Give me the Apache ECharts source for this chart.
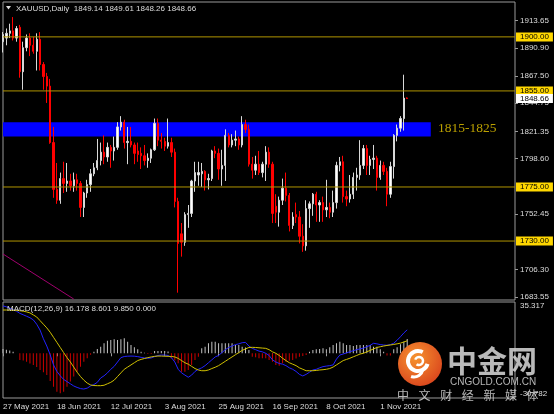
<!DOCTYPE html>
<html><head><meta charset="utf-8">
<script src="https://cdn.jsdelivr.net/npm/echarts@6/dist/echarts.min.js"></script>
<style>html,body{margin:0;padding:0;background:#000;}#c{width:554px;height:414px;}</style>
</head><body><div id="c"></div><script>
const tickLabels = ['27 May 2021','18 Jun 2021','12 Jul 2021','3 Aug 2021','25 Aug 2021','16 Sep 2021','8 Oct 2021','1 Nov 2021'];
const tickEvery = 16;
const totalSlots = 153;
const opens = [1896,1899,1903,1905,1899,1908,1871,1891,1899,1893,1888,1898,1877,1867,1859,1812,1773,1764,1782,1778,1780,1776,1781,1778,1758,1770,1777,1786,1791,1797,1804,1800,1808,1805,1808,1825,1829,1812,1813,1810,1805,1803,1801,1797,1799,1806,1828,1814,1813,1809,1812,1804,1763,1736,1729,1752,1753,1780,1785,1786,1788,1781,1782,1805,1803,1790,1793,1818,1810,1814,1815,1810,1827,1823,1794,1789,1794,1787,1794,1804,1794,1759,1754,1764,1774,1768,1743,1752,1750,1734,1726,1757,1761,1769,1760,1762,1756,1758,1754,1762,1793,1796,1767,1765,1769,1783,1785,1793,1807,1793,1798,1799,1783,1793,1788,1769,1792,1818,1824,1832,1849.14];
const highs = [1904,1907,1911,1916.5,1909,1910,1896,1902,1903,1900,1903,1904,1879,1870,1865,1825,1795,1787,1796,1795,1786,1787,1786,1780,1771,1781,1790,1795,1815,1812,1818,1812,1810,1817,1829,1834,1831,1825,1825,1812,1812,1808,1810,1803,1807,1832,1832,1820,1816,1832,1816,1807,1766,1745,1754,1760,1781,1796,1796,1795,1789,1786,1806,1809,1807,1806,1823,1820,1819,1822,1817,1834,1831,1827,1800,1801,1805,1796,1809,1808,1796,1769,1767,1782,1787,1770,1754,1762,1755,1744,1764,1763,1770,1771,1764,1767,1781,1762,1772,1796,1800,1801,1772,1785,1787,1791,1814,1810,1810,1801,1810,1801,1797,1796,1791,1796,1819,1827,1834,1868.5,1849.61];
const lows = [1887,1893,1899,1897,1896,1866,1856,1888,1884,1886,1872,1872,1856,1845,1811,1766,1761,1761,1770,1771,1772,1771,1772,1750,1750,1766,1771,1784,1789,1793,1794,1796,1791,1797,1806,1822,1807,1794,1808,1794,1796,1790,1793,1791,1795,1805,1809,1807,1805,1807,1800,1758,1687,1717,1726,1741,1750,1771,1776,1775,1772,1773,1780,1799,1781,1776,1780,1808,1808,1809,1806,1808,1820,1792,1782,1785,1785,1783,1780,1791,1745,1745,1742,1760,1763,1738,1740,1745,1728,1721,1722,1741,1751,1746,1746,1746,1750,1749,1750,1757,1788,1762,1759,1762,1765,1772,1781,1790,1785,1785,1790,1772,1781,1785,1759,1766,1782,1813,1821,1822,1848.26];
const closes = [1902,1903,1905,1899,1907,1871,1891,1899,1893,1888,1898,1877,1867,1859,1812,1773,1764,1782,1778,1780,1776,1781,1778,1758,1770,1777,1786,1791,1797,1804,1800,1808,1805,1808,1825,1829,1812,1813,1810,1803,1802,1801,1797,1799,1806,1828,1814,1813,1809,1812,1804,1763,1728,1729,1752,1753,1780,1787,1787,1788,1781,1782,1805,1803,1790,1793,1818,1810,1814,1815,1810,1827,1823,1794,1789,1794,1787,1794,1804,1794,1753,1754,1764,1774,1768,1743,1750,1750,1734,1726,1757,1761,1769,1760,1762,1756,1758,1754,1762,1793,1796,1767,1765,1769,1783,1785,1793,1807,1793,1798,1799,1783,1793,1788,1769,1792,1818,1824,1832,1849,1848.66];
const macdLine = [32.6,32,31,30,29,27.5,26.5,25.5,24.5,23,20,16,10,5,-1,-8,-12.5,-15.5,-18,-19.5,-21,-22.5,-23.5,-24.3,-24.6,-24,-22.5,-21.5,-20,-17,-15.5,-13.5,-11,-9,-6,-3,-2.2,-2,-1.9,-2,-2.3,-2.8,-3.2,-3.4,-3.2,-2.3,-1.5,-1.2,-1.2,-1.5,-3,-6,-11,-13.5,-15,-16.5,-15,-12.5,-11,-10,-8.5,-6.5,-4.5,-2.5,-1.5,0.5,2.5,4,5,6,6.5,7.3,7.5,5,3.4,2.5,1.5,1,0,-1.5,-4.5,-6,-7,-7.5,-8.5,-10,-11,-12.5,-14.5,-15.6,-14.5,-13,-11.5,-11,-10,-9.2,-8.8,-8.5,-8,-4,-1.2,-0.5,0.3,1.1,1.8,2.5,3,3.6,4.5,5.5,6.9,6.5,6,5.7,5.5,6,6.9,9,11.4,14,16.18];
const signalLine = [29.8,29.8,29.7,29.6,29.5,29.3,29,28.5,27.8,26.4,25,22.5,20,17.5,14.5,11,7.5,4,0.5,-3,-6,-9.5,-13,-16,-18.5,-20.5,-21.8,-22.2,-22.3,-22.3,-22,-21,-20,-18.5,-16,-13.5,-11,-9.5,-8,-6.5,-5,-4.2,-3.6,-3,-2.5,-2.1,-1.9,-1.9,-2,-2.1,-2.2,-2.5,-3.5,-5,-6.5,-7.5,-9,-10.5,-11.5,-12,-12,-11.5,-10.5,-9.6,-8.5,-7,-5.5,-4,-2.5,-1,0.5,2,3,4,4.1,4,3.8,3.6,3.4,2.5,1,0,-1.5,-3.4,-5,-6.5,-7.5,-8.5,-10,-11,-12,-12,-12,-11.8,-11.5,-11.3,-11,-10.5,-9.5,-8,-6.5,-5,-4.2,-3.4,-2.4,-1.5,-0.5,0,1,2,3,4,4.5,5,5.4,5.7,6.1,6.5,7,7.8,8.6];
const histValues = [3,2.5,2,1,0,-4.6,-5,-5.8,-7,-8,-9.5,-11.5,-13,-15,-19,-23,-26.4,-27.5,-26.4,-23,-19.5,-16,-12.7,-9.2,-5.8,-3.4,-1,1.1,3,4.5,6.9,8.7,9.2,9.6,9.2,9.6,10.3,8,5.7,4.1,2.7,1.1,0.3,-0.5,-0.5,1.5,1.5,1.5,1.5,1.2,-3.4,-5,-6.9,-12.7,-12.7,-11.5,-8,-4.6,-2.3,3.4,4.5,6.9,8,8,6.9,6.9,6.9,6.9,6.9,5.7,5.7,4.5,4,2.3,-2.3,-2.8,-3.4,-3.4,-3.4,-4.6,-5.8,-8,-8.5,-6.9,-5.8,-5.2,-4.6,-3.5,-2.3,-1.8,-1.2,1.1,2.3,2.8,3,3.4,2.8,4.1,5.7,6.9,8,6.9,5.7,5.7,5,5.7,5.7,5.7,5.7,5.7,4.5,4.5,2.7,1.1,-1.5,-1.5,2.7,4.1,6.3,8,9.85];
const levels = [1900, 1855, 1775, 1730];
const lastPrice = 1848.66;
const band = [1817, 1829];
const bandEnd = 127;
const priceTicks = [1913.65, 1890.90, 1867.50, 1844.75, 1821.35, 1798.60, 1752.45, 1706.30, 1683.55];
const macdTicks = [35.317, -30.782];
const trendLine = [[0, 1719.2], [21, 1681.7]];
const titleText = 'XAUUSD,Daily  1849.14 1849.61 1848.26 1848.66';
const macdText = 'MACD(12,26,9) 16.178 8.601 9.850 0.000';

const cats = Array.from({length: totalSlots}, (_, i) => String(i));
const candleData = opens.map((o, i) => [o, closes[i], lows[i], highs[i]]);
const FONT = '"Liberation Sans", Arial, sans-serif';
const LEVEL_COLOR = '#b09400';
const showTick = (idx) => idx % tickEvery === 0 && idx / tickEvery < tickLabels.length;

const chart = echarts.init(document.getElementById('c'), null, {renderer: 'canvas'});
const endLbl = (bg) => ({show: true, distance: 1, formatter: p => Number(p.value[1]).toFixed(2),
  backgroundColor: bg, color: '#000', fontSize: 8, fontFamily: FONT, padding: [1, 4, 0, 4]});
const levelSeries = (v, bg, visible) => ({type: 'line', xAxisIndex: 0, yAxisIndex: 0, z: 4, silent: true,
  data: [[0, v], [totalSlots - 1, v]], symbol: 'none', showSymbol: false,
  lineStyle: {color: visible ? LEVEL_COLOR : 'rgba(0,0,0,0)', width: visible ? 1 : 0},
  endLabel: endLbl(bg), labelLayout: {hideOverlap: false}});

const option = {
  backgroundColor: '#000',
  animation: false,
  grid: [
    {left: 3, right: 39, top: 2, height: 298, show: true, borderColor: '#9a9a9a', borderWidth: 1, backgroundColor: '#000'},
    {left: 3, right: 39, top: 302, height: 96, show: true, borderColor: '#9a9a9a', borderWidth: 1, backgroundColor: '#000'}
  ],
  xAxis: [
    {gridIndex: 0, type: 'category', data: cats, boundaryGap: false, axisLine: {show: false}, axisTick: {show: false}, axisLabel: {show: false}, splitLine: {show: false}},
    {gridIndex: 1, type: 'category', data: cats, boundaryGap: false, axisLine: {show: false},
      axisTick: {show: true, interval: showTick, alignWithLabel: true, length: 3, lineStyle: {color: '#9a9a9a'}},
      axisLabel: {show: true, interval: showTick, formatter: (v, idx) => tickLabels[idx / tickEvery] || '', color: '#dcdcdc', fontSize: 8, fontFamily: FONT, align: 'left', margin: 5},
      splitLine: {show: false}}
  ],
  yAxis: [
    {gridIndex: 0, type: 'value', position: 'right', min: 1680.9, max: 1929.05, splitLine: {show: false},
      axisLine: {show: false},
      axisTick: {show: true, customValues: priceTicks, length: 3, lineStyle: {color: '#9a9a9a'}},
      axisLabel: {show: true, customValues: priceTicks, formatter: v => Number(v).toFixed(2), color: '#dcdcdc', fontSize: 8, fontFamily: FONT, margin: 5}},
    {gridIndex: 1, type: 'value', position: 'right', min: -30.782, max: 35.317, splitLine: {show: false},
      axisLine: {show: false},
      axisTick: {show: false},
      axisLabel: {show: true, customValues: macdTicks, color: '#dcdcdc', fontSize: 8, fontFamily: FONT, margin: 5,
        formatter: v => (v > 0 ? '{t|' : '{b|') + Number(v).toFixed(3) + '}',
        rich: {t: {padding: [8, 0, 0, 0], color: '#dcdcdc', fontSize: 8, fontFamily: FONT},
               b: {padding: [0, 0, 8, 0], color: '#dcdcdc', fontSize: 8, fontFamily: FONT}}}}
  ],
  series: [
    {type: 'line', name: 'band', xAxisIndex: 0, yAxisIndex: 0, data: [], z: 1, silent: true,
      markArea: {silent: true, itemStyle: {color: '#0000ff'}, data: [[{xAxis: 0, yAxis: band[1]}, {xAxis: bandEnd, yAxis: band[0]}]]}},
    {type: 'line', name: 'trend', xAxisIndex: 0, yAxisIndex: 0, data: trendLine, symbol: 'none', silent: true, z: 2,
      lineStyle: {color: '#a0006e', width: 1}},
    {type: 'candlestick', name: 'XAUUSD', xAxisIndex: 0, yAxisIndex: 0, data: candleData, z: 3, barWidth: 1.8,
      itemStyle: {color: '#ffffff', color0: '#ff0000', borderColor: '#d8d8d8', borderColor0: '#ff0000', borderWidth: 1}}
  ].concat(levels.map(v => levelSeries(v, '#ffd700', true)))
   .concat([levelSeries(lastPrice, '#ffffff', false)])
   .concat([
    {type: 'bar', name: 'hist', xAxisIndex: 1, yAxisIndex: 1, data: histValues, barWidth: 1, silent: true,
      itemStyle: {color: p => p.value >= 0 ? '#c4c4c4' : '#cc0000'}},
    {type: 'line', name: 'MACD', xAxisIndex: 1, yAxisIndex: 1, data: macdLine, symbol: 'none', silent: true,
      lineStyle: {color: '#2323ff', width: 1}},
    {type: 'line', name: 'Signal', xAxisIndex: 1, yAxisIndex: 1, data: signalLine, symbol: 'none', silent: true,
      lineStyle: {color: '#d0c000', width: 1}}
  ]),
  graphic: [
    {type: 'polygon', shape: {points: [[6, 6], [11, 6], [8.5, 9.5]]}, style: {fill: '#dcdcdc'}, z: 100},
    {type: 'text', style: {text: titleText, x: 16, y: 8.5, fill: '#dcdcdc', font: '8px ' + FONT, textVerticalAlign: 'middle'}, z: 100},
    {type: 'text', style: {text: macdText, x: 7, y: 308.5, fill: '#dcdcdc', font: '8px ' + FONT, textVerticalAlign: 'middle'}, z: 100},
    {type: 'text', style: {text: '1815-1825', x: 438, y: 128, fill: '#bba000', font: '13.5px "Liberation Serif", serif', textVerticalAlign: 'middle'}, z: 100},
    {type: 'circle', shape: {cx: 420, cy: 364, r: 22}, z: 110,
      style: {fill: {type: 'radial', x: 0.4, y: 0.35, r: 0.75, colorStops: [{offset: 0, color: '#f6932f'}, {offset: 1, color: '#d8401c'}]}}},
    {type: 'arc', shape: {cx: 418, cy: 361, r: 10, startAngle: 0.3, endAngle: 5.2}, z: 111, style: {stroke: '#ffffff', lineWidth: 4, fill: null}},
    {type: 'arc', shape: {cx: 419, cy: 361, r: 4, startAngle: 3.5, endAngle: 8.5}, z: 111, style: {stroke: '#ffffff', lineWidth: 2.5, fill: null}},
    {type: 'arc', shape: {cx: 414, cy: 368, r: 9, startAngle: 0.2, endAngle: 1.9}, z: 111, style: {stroke: '#ffffff', lineWidth: 3, fill: null}},
    {type: 'text', style: {text: '中金网', x: 447, y: 361, fill: 'rgba(205,205,205,0.9)', font: 'bold 30px "Noto Sans CJK SC"', textVerticalAlign: 'middle'}, z: 110},
    {type: 'text', style: {text: 'CNGOLD.COM.CN', x: 450, y: 382, fill: 'rgba(200,200,200,0.9)', font: '10px ' + FONT, textVerticalAlign: 'middle'}, z: 110}
  ].concat(['中','文','财','经','新','媒','体'].map((ch, k) => ({type: 'text', z: 110,
    style: {text: ch, x: 397 + k * 21.6, y: 395, fill: 'rgba(215,215,215,0.85)', font: '12px "Noto Sans CJK SC"', textVerticalAlign: 'middle'}})))
};
chart.setOption(option);
</script></body></html>
